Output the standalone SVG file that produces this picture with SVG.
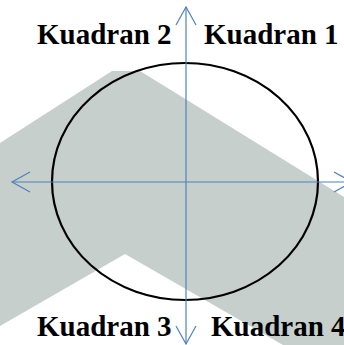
<svg xmlns="http://www.w3.org/2000/svg" width="344" height="345" viewBox="0 0 344 345">
  <style>
    .lbl { font-family: "Liberation Serif", "Times New Roman", serif; font-weight: bold; font-size: 29px; fill: #000; }
    .axis { stroke: #4f81bd; stroke-width: 1.2; fill: none; }
    .bg { fill: #c6cfcc; }
  </style>
  <defs>
    <marker id="vhead" markerUnits="userSpaceOnUse" markerWidth="24" markerHeight="24" viewBox="-20 -12 24 24" refX="0" refY="0" orient="auto-start-reverse" overflow="visible">
      <path d="M-18,-10 L0,0 L-18,10" fill="none" stroke="#4f81bd" stroke-width="1.2"/>
    </marker>
  </defs>
  <rect width="344" height="345" fill="#fff"/>
  <g id="watermark">
    <polygon class="bg" points="0,143 112,71 140,71 344,197 344,345 283,345 125,254 0,326"/>
  </g>
  <g id="ellipse">
    <ellipse cx="185" cy="181.5" rx="133" ry="118.5" fill="none" stroke="#000" stroke-width="2.2"/>
  </g>
  <g id="connectors">
    <line class="axis" x1="12" y1="182" x2="352" y2="182" marker-start="url(#vhead)" marker-end="url(#vhead)"/>
    <line class="axis" x1="186" y1="7" x2="186" y2="344" marker-start="url(#vhead)" marker-end="url(#vhead)"/>
  </g>
  <g id="kuadran2"><text class="lbl" x="37" y="44">Kuadran 2</text></g>
  <g id="kuadran1"><text class="lbl" x="204" y="44">Kuadran 1</text></g>
  <g id="kuadran3"><text class="lbl" x="37" y="336">Kuadran 3</text></g>
  <g id="kuadran4"><text class="lbl" x="211" y="336">Kuadran 4</text></g>
</svg>
